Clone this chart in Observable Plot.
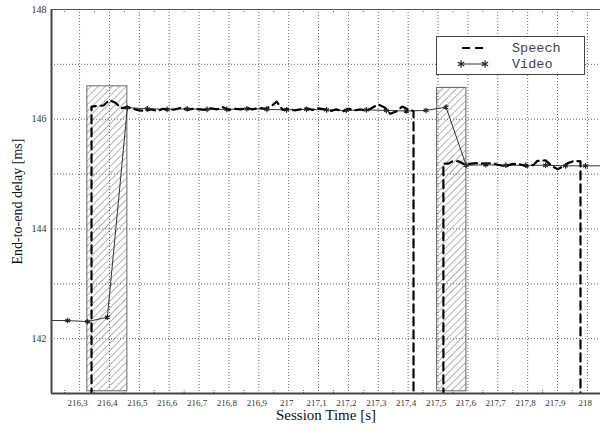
<!DOCTYPE html>
<html><head><meta charset="utf-8">
<script src="https://cdn.jsdelivr.net/npm/d3@7"></script>
<script src="https://cdn.jsdelivr.net/npm/@observablehq/plot@0.6"></script>
<style>
body{margin:0;background:#fff;}
#wrap{position:relative;width:600px;height:430px;}
#wrap svg.plotsvg, #wrap svg.plotsvg text{font-family:"Liberation Serif","Times New Roman","DejaVu Serif",serif !important;}
#legend{position:absolute;left:436px;top:36px;}
#legend text{font-family:"Liberation Mono","Courier New","DejaVu Sans Mono",monospace;}
</style></head><body><div id="wrap"></div>
<script>
// ---- data ----
const xDomain = [216.206, 218.044];
const yDomain = [141, 148];
const xTicks = [216.3,216.4,216.5,216.6,216.7,216.8,216.9,217,217.1,217.2,217.3,217.4,217.5,217.6,217.7,217.8,217.9,218];
const xMinor = [216.25,216.35,216.45,216.55,216.65,216.75,216.85,216.95,217.05,217.15,217.25,217.35,217.45,217.55,217.65,217.75,217.85,217.95];
const yGrid = [142,143,144,145,146,147];
const yTickLabels = [142,144,146,148];

// loss periods (hatched)
const lossStart = [216.326, 217.497];
const lossEnd = [216.46, 217.595];
const lossTop = [146.6, 146.57];

// Speech
const speechTime = [
 216.34,216.34,216.36,216.38,216.40,216.42,216.44,216.46,216.48,216.50,216.52,216.54,216.56,216.58,216.60,
 216.62,216.64,216.66,216.68,216.70,216.72,216.74,216.76,216.78,216.80,216.82,216.84,216.86,216.88,216.90,
 216.92,216.94,216.96,216.98,217.00,217.02,217.04,217.06,217.08,217.10,217.12,217.14,217.16,217.18,217.20,
 217.22,217.24,217.26,217.28,217.30,217.32,217.34,217.36,217.38,217.40,217.418,217.418,
 217.518,217.518,217.535,217.55,217.57,217.59,217.61,217.635,217.66,217.68,217.70,217.726,217.745,217.766,
 217.785,217.803,217.82,217.833,217.86,217.88,217.90,217.92,217.935,217.955,217.977,217.977];
const speechDelay = [
 140,146.23,146.24,146.25,146.35,146.30,146.20,146.22,146.19,146.16,146.15,146.18,146.15,146.19,146.17,
 146.18,146.21,146.17,146.19,146.18,146.17,146.20,146.18,146.22,146.17,146.19,146.18,146.20,146.18,146.21,
 146.19,146.23,146.32,146.17,146.19,146.16,146.18,146.20,146.17,146.20,146.18,146.15,146.18,146.14,146.19,
 146.16,146.18,146.15,146.21,146.27,146.22,146.10,146.14,146.23,146.18,146.15,140,
 140,145.19,145.19,145.24,145.23,145.17,145.19,145.20,145.19,145.20,145.17,145.14,145.18,145.19,
 145.16,145.13,145.17,145.24,145.25,145.15,145.09,145.14,145.20,145.24,145.23,140];
const speechBurst = [
 1,1,1,1,1,1,1,1,1,1,1,1,1,1,1,
 1,1,1,1,1,1,1,1,1,1,1,1,1,1,1,
 1,1,1,1,1,1,1,1,1,1,1,1,1,1,1,
 1,1,1,1,1,1,1,1,1,1,1,1,
 2,2,2,2,2,2,2,2,2,2,2,2,2,2,
 2,2,2,2,2,2,2,2,2,2,2,2];

// Video
const videoTime = [216.193,216.260,216.327,216.393,216.460,216.527,216.593,216.660,216.727,216.793,216.860,
 216.927,216.993,217.060,217.127,217.193,217.260,217.327,217.394,217.460,217.527,217.594,217.660,217.727,
 217.794,217.860,217.927,217.994,218.060];
const videoDelay = [142.33,142.33,142.31,142.39,146.21,146.19,146.18,146.19,146.18,146.18,146.19,
 146.18,146.17,146.18,146.17,146.16,146.17,146.16,146.15,146.16,146.22,145.16,145.17,145.16,
 145.16,145.16,145.15,145.15,145.15];

const legendItems = ["Speech", "Video"];

// ---- build tables ----
const speech = speechTime.map((t,i) => ({t, d: speechDelay[i], b: speechBurst[i]}));
const video = videoTime.map((t,i) => ({t, d: videoDelay[i]}));
const loss = lossStart.map((s,i) => ({s, e: lossEnd[i], top: lossTop[i]}));
const fmt = d => String(Math.round(d*10)/10).replace(".", ",");

const svg = Plot.plot({
  width: 600, height: 430,
  marginLeft: 51, marginRight: 0, marginTop: 9, marginBottom: 37,
  className: "plotsvg",
  x: {domain: xDomain},
  y: {domain: yDomain},
  style: {fontSize: "10px", color: "#333", background: "#fff"},
  marks: [
    Plot.gridX(xTicks, {stroke: "#555", strokeOpacity: 1, strokeDasharray: "1,2", strokeWidth: 0.9}),
    Plot.gridY(yGrid, {stroke: "#555", strokeOpacity: 1, strokeDasharray: "1,2", strokeWidth: 0.9}),
    Plot.tickX(xMinor, {x: d => d, insetTop: 381, stroke: "#555", strokeDasharray: "1,1"}),
    Plot.tickX(xMinor, {x: d => d, insetBottom: 381, stroke: "#555", strokeDasharray: "1,1"}),
    Plot.rect(loss, {x1: "s", x2: "e", y1: yDomain[0] + 0.04, y2: "top", fill: "url(#hatch)", stroke: "#666", strokeWidth: 1}),
    Plot.line(video, {x: "t", y: "d", stroke: "#333", strokeWidth: 1, clip: true}),
    Plot.line(speech, {x: "t", y: "d", z: "b", stroke: "#000", strokeWidth: 2.2, strokeDasharray: "8,5", clip: true}),
    Plot.dot(video, {x: "t", y: "d", symbol: "asterisk", r: 2.6, stroke: "#222", strokeWidth: 1.2, clip: true}),
    Plot.frame({stroke: "#555", strokeWidth: 1}),
    Plot.ruleX([xDomain[0]], {stroke: "#444", strokeWidth: 2}),
    Plot.ruleY([yDomain[0]], {stroke: "#444", strokeWidth: 2}),
    Plot.axisX(xTicks, {tickSize: 0, tickPadding: 6, dx: -2, fontSize: 9, tickFormat: fmt, label: null}),
    Plot.axisY(yTickLabels, {tickSize: 0, tickPadding: 5, fontSize: 10, tickFormat: d => String(d), label: null}),
    Plot.text(["Session Time [s]"], {frameAnchor: "bottom", lineAnchor: "middle", dy: 22, fontSize: 15, fill: "#111"}),
    Plot.text(["End-to-end delay [ms]"], {frameAnchor: "left", textAnchor: "middle", lineAnchor: "middle", rotate: -90, dx: -34, fontSize: 14, fill: "#111"})
  ]
});

const ns = "http://www.w3.org/2000/svg";
const defs = document.createElementNS(ns, "defs");
defs.innerHTML = '<pattern id="hatch" patternUnits="userSpaceOnUse" width="5" height="5" patternTransform="rotate(45)"><line x1="0" y1="0" x2="0" y2="5" stroke="#666" stroke-width="1"/></pattern>';
svg.prepend(defs);

const wrap = document.getElementById("wrap");
wrap.appendChild(svg);

// legend
const lg = d3.select(wrap).append("svg").attr("id", "legend").attr("width", 149).attr("height", 39);
lg.append("rect").attr("x", 0.5).attr("y", 0.5).attr("width", 148).attr("height", 38).attr("fill", "#fff").attr("stroke", "#444");
lg.append("line").attr("x1", 26).attr("x2", 48).attr("y1", 12).attr("y2", 12)
  .attr("stroke", "#000").attr("stroke-width", 2.2).attr("stroke-dasharray", "8,5");
lg.append("line").attr("x1", 25).attr("x2", 49).attr("y1", 28).attr("y2", 28).attr("stroke", "#333");
const star = d3.symbol(d3.symbolAsterisk, 40);
[25, 49].forEach(x => lg.append("path").attr("d", star()).attr("transform", `translate(${x},28)`).attr("fill", "none").attr("stroke", "#222").attr("stroke-width", 1.2));
lg.selectAll("text.lab").data(legendItems).join("text").attr("class", "lab")
  .attr("x", 76).attr("y", (d,i) => 16 + i*16)
  .attr("font-size", 13.5).attr("fill", "#444")
  .text(d => d);
</script></body></html>
